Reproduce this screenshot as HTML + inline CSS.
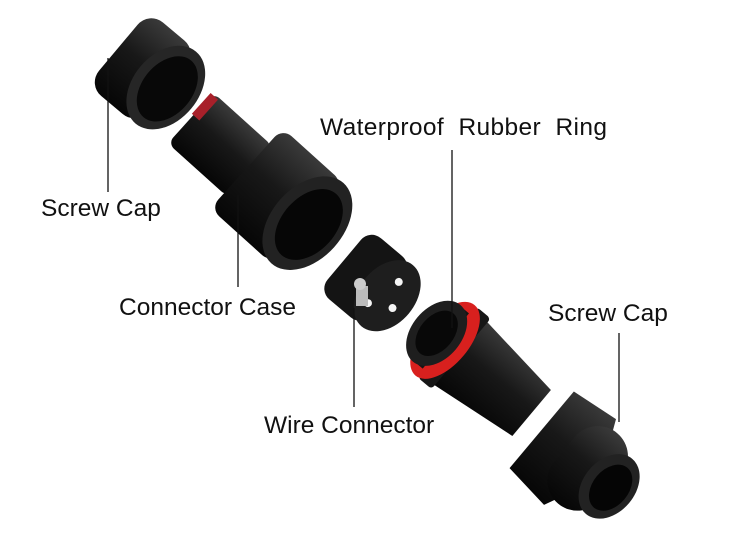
<!DOCTYPE html>
<html><head><meta charset="utf-8"><style>
html,body{margin:0;padding:0;background:#fff;}
svg{display:block}
text{font-family:"Liberation Sans",Arial,sans-serif;font-size:24.5px;fill:#111;}
</style></head><body>
<svg width="750" height="551" viewBox="0 0 750 551" xmlns="http://www.w3.org/2000/svg">
<defs>
<linearGradient id="g1" x1="0" y1="0" x2="0" y2="1">
<stop offset="0" stop-color="#3a3a3a"/><stop offset="0.45" stop-color="#181818"/><stop offset="1" stop-color="#060606"/>
</linearGradient>
</defs>
<!-- Screw cap top-left -->
<g transform="translate(152,76) rotate(40)">
<rect x="-44" y="-48" width="64" height="96" rx="18" fill="url(#g1)"/>
<ellipse cx="18" cy="0" rx="33" ry="47" fill="#262626"/>
<ellipse cx="20" cy="0" rx="25" ry="37" fill="#080808"/>
</g>
<!-- Connector case -->
<g transform="translate(265,185) rotate(42)">
<rect x="-100" y="-34" width="80" height="68" rx="8" fill="url(#g1)"/>
<rect x="-102" y="-32" width="10" height="28" fill="#a8202a"/>
<rect x="-25" y="-54" width="82" height="108" rx="12" fill="url(#g1)"/>
<ellipse cx="57" cy="0" rx="36" ry="54" fill="#222"/>
<ellipse cx="59" cy="0" rx="27" ry="41" fill="#060606"/>
</g>
<!-- Wire connector -->
<g transform="translate(378,288) rotate(40)">
<rect x="-44" y="-40" width="56" height="80" rx="14" fill="#141414"/>
<ellipse cx="12" cy="0" rx="28" ry="40" fill="#1e1e1e"/>
<circle cx="12" cy="-18" r="4" fill="#f5f5f5"/>
<circle cx="24" cy="6" r="4" fill="#f5f5f5"/>
<circle cx="2" cy="18" r="4" fill="#f5f5f5"/>
</g>
<rect x="356" y="286" width="12" height="20" fill="#bbb"/>
<circle cx="360" cy="284" r="6" fill="#ccc"/>
<!-- Rubber ring piece -->
<g transform="translate(478,368) rotate(40)">
<polygon points="-30,-42 70,-30 70,30 -30,42" fill="url(#g1)"/>
<rect x="-40" y="-46" width="18" height="92" rx="4" fill="#161616"/>
<ellipse cx="-43" cy="0" rx="24" ry="46" fill="#d8201e"/>
<rect x="-56" y="-36" width="14" height="72" fill="#151515"/>
<ellipse cx="-54" cy="0" rx="25" ry="37" fill="#1e1e1e"/>
<ellipse cx="-54" cy="0" rx="17" ry="26" fill="#080808"/>
</g>
<!-- Screw cap bottom right -->
<g transform="translate(580,462) rotate(40)">
<polygon points="-50,-50 0,-56 12,-30 12,30 0,56 -50,50" fill="url(#g1)"/>
<rect x="-20" y="-46" width="60" height="92" rx="30" fill="url(#g1)"/>
<ellipse cx="38" cy="0" rx="26" ry="36" fill="#222"/>
<ellipse cx="40" cy="0" rx="18" ry="26" fill="#050505"/>
</g>
<!-- leader lines -->
<g stroke="#111" stroke-width="1.3">
<line x1="108" y1="58" x2="108" y2="192"/>
<line x1="238" y1="195" x2="238" y2="287"/>
<line x1="452" y1="150" x2="452" y2="328"/>
<line x1="619" y1="333" x2="619" y2="422"/>
<line x1="354" y1="308" x2="354" y2="407"/>
</g>
<text x="41" y="216">Screw Cap</text>
<text x="119" y="315">Connector Case</text>
<text x="320" y="135" textLength="287" lengthAdjust="spacing" xml:space="preserve">Waterproof  Rubber  Ring</text>
<text x="548" y="321">Screw Cap</text>
<text x="264" y="433">Wire Connector</text>
</svg>
</body></html>
